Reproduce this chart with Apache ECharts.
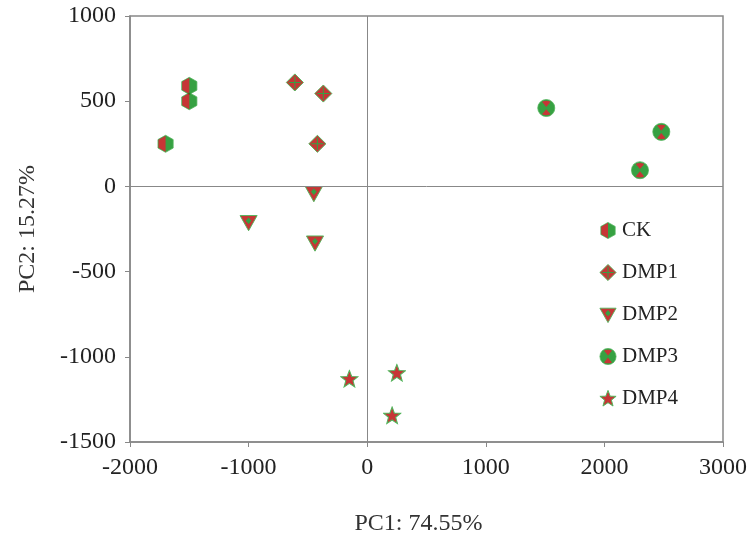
<!DOCTYPE html>
<html>
<head>
<meta charset="utf-8">
<script src="https://cdn.jsdelivr.net/npm/echarts@6/dist/echarts.min.js"></script>
<style>
  html, body { margin: 0; padding: 0; background: #fff; }
  #chart { width: 756px; height: 538px; }
</style>
</head>
<body>
<div id="chart"></div>
<script>
// PCA scores
const groups = ['CK', 'DMP1', 'DMP2', 'DMP3', 'DMP4'];
const ckPoints   = [[-1700, 250], [-1500, 590], [-1500, 500]];
const dmp1Points = [[-610, 610], [-370, 545], [-420, 250]];
const dmp2Points = [[-1000, -210], [-450, -40], [-440, -330]];
const dmp3Points = [[1510, 460], [2480, 320], [2300, 95]];
const dmp4Points = [[-150, -1130], [250, -1095], [210, -1345]];
const xTicks = { min: -2000, max: 3000, interval: 1000 };
const yTicks = { min: -1500, max: 1000, interval: 500 };

const RED = '#b80404';
const GREEN = '#058a14';
const EDGE = '#27a233';

// two-colour markers as small svg images
const svgIcon = (inner) => 'image://data:image/svg+xml;charset=utf-8,' + encodeURIComponent(
  '<svg xmlns="http://www.w3.org/2000/svg" width="40" height="40" viewBox="0 0 20 20">' + inner + '</svg>'
);

const symbols = {
  CK: svgIcon(
    `<polygon points="10,1 18,5.5 18,14.5 10,19 2,14.5 2,5.5" fill="${GREEN}" stroke="${EDGE}" stroke-width="0.8"/>` +
    `<polygon points="10,1.5 2.5,5.8 2.5,14.2 10,18.5" fill="${RED}"/>`
  ),
  DMP1: svgIcon(
    `<polygon points="10,1 19,10 10,19 1,10" fill="${RED}" stroke="${EDGE}" stroke-width="1"/>` +
    `<line x1="10" y1="3.5" x2="10" y2="16.5" stroke="${GREEN}" stroke-width="1.1"/>` +
    `<line x1="3.5" y1="10" x2="16.5" y2="10" stroke="${GREEN}" stroke-width="1.1"/>`
  ),
  DMP2: svgIcon(
    `<polygon points="1,3 19,3 10,19" fill="${RED}" stroke="${EDGE}" stroke-width="1"/>` +
    `<polygon points="10,5 13,8.5 10,12 7,8.5" fill="${GREEN}"/>`
  ),
  DMP3: svgIcon(
    `<circle cx="10" cy="10" r="9" fill="${GREEN}" stroke="${EDGE}" stroke-width="0.8"/>` +
    `<path d="M5.5,3.4 Q10,1.4 14.5,3.4 L10,8.8 Z" fill="${RED}"/>` +
    `<path d="M5.5,16.6 Q10,18.6 14.5,16.6 L10,11.2 Z" fill="${RED}"/>`
  ),
  DMP4: svgIcon(
    `<polygon points="10,1 12.4,7.4 19,7.6 13.8,11.8 15.6,18.4 10,14.6 4.4,18.4 6.2,11.8 1,7.6 7.6,7.4" fill="${RED}" stroke="${EDGE}" stroke-width="1.1"/>`
  )
};

const seriesData = {
  CK: ckPoints,
  DMP1: dmp1Points,
  DMP2: dmp2Points,
  DMP3: dmp3Points,
  DMP4: dmp4Points
};

const FONT = '"Liberation Serif", "DejaVu Serif", serif';
const AXIS_GREY = '#888';

const chart = echarts.init(document.getElementById('chart'));

const series = groups.map((name, i) => ({
  name: name,
  type: 'scatter',
  data: seriesData[name],
  symbol: symbols[name],
  symbolSize: 19,
  z: 3,
  markLine: i === 0 ? {
    silent: true,
    symbol: 'none',
    label: { show: false },
    lineStyle: { color: AXIS_GREY, width: 1, type: 'solid' },
    data: [{ xAxis: 0 }, { yAxis: 0 }]
  } : undefined
}));

chart.setOption({
  backgroundColor: '#fff',
  animation: false,
  grid: {
    left: 130, top: 16, right: 33, bottom: 96,
    containLabel: false,
    outerBoundsMode: 'none',
    show: true,
    borderColor: AXIS_GREY,
    borderWidth: 1.5
  },
  legend: {
    orient: 'vertical',
    left: 594,
    top: 215,
    itemWidth: 18,
    itemHeight: 18,
    itemGap: 21,
    textStyle: { fontFamily: FONT, fontSize: 21, color: '#222' },
    data: groups.map(g => ({ name: g, icon: symbols[g] }))
  },
  xAxis: {
    type: 'value',
    min: xTicks.min, max: xTicks.max, interval: xTicks.interval,
    name: 'PC1: 74.55%',
    nameLocation: 'middle',
    nameGap: 70,
    nameTextStyle: { fontFamily: FONT, fontSize: 24, color: '#333', padding: [0, 16, 0, 0] },
    axisLine: { onZero: false, lineStyle: { color: AXIS_GREY, width: 1.5 } },
    axisTick: { show: true, length: 5, lineStyle: { color: AXIS_GREY } },
    axisLabel: { fontFamily: FONT, fontSize: 24, color: '#222', margin: 14, formatter: v => String(v) },
    splitLine: { show: false }
  },
  yAxis: {
    type: 'value',
    min: yTicks.min, max: yTicks.max, interval: yTicks.interval,
    name: 'PC2: 15.27%',
    nameLocation: 'middle',
    nameGap: 90,
    nameTextStyle: { fontFamily: FONT, fontSize: 24, color: '#333' },
    axisLine: { onZero: false, lineStyle: { color: AXIS_GREY, width: 1.5 } },
    axisTick: { show: true, length: 5, lineStyle: { color: AXIS_GREY } },
    axisLabel: { fontFamily: FONT, fontSize: 24, color: '#222', margin: 14, formatter: v => String(v) },
    splitLine: { show: false }
  },
  series: series
});
</script>
</body>
</html>
